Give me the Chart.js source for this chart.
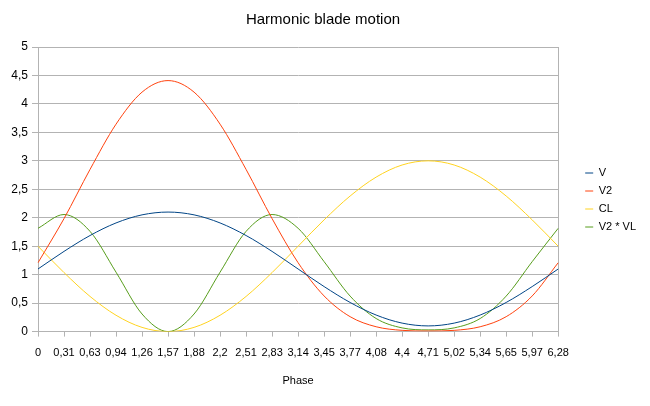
<!DOCTYPE html>
<html>
<head>
<meta charset="utf-8">
<script src="https://cdn.jsdelivr.net/npm/chart.js@4.4.1/dist/chart.umd.min.js"></script>
<style>
  html, body { margin: 0; padding: 0; background: #fff; }
</style>
</head>
<body>
<canvas id="chart" width="650" height="406"></canvas>
<script>
// phase labels as printed on the axis
const phase = ['0', '0,31', '0,63', '0,94', '1,26', '1,57', '1,88', '2,2', '2,51', '2,83', '3,14',
  '3,45', '3,77', '4,08', '4,4', '4,71', '5,02', '5,34', '5,65', '5,97', '6,28'];

const v = [1.1, 1.409, 1.688, 1.909, 2.051, 2.1, 2.051, 1.909, 1.688, 1.409, 1.1,
  0.791, 0.512, 0.291, 0.149, 0.1, 0.149, 0.291, 0.512, 0.791, 1.1];

const v2 = [1.21, 1.985, 2.849, 3.644, 4.207, 4.41, 4.207, 3.644, 2.849, 1.985, 1.21,
  0.626, 0.262, 0.085, 0.022, 0.01, 0.022, 0.085, 0.262, 0.626, 1.21];

const cl = [1.5, 1.037, 0.618, 0.287, 0.074, 0, 0.074, 0.287, 0.618, 1.037, 1.5,
  1.963, 2.382, 2.714, 2.927, 3, 2.927, 2.714, 2.382, 1.963, 1.5];

const v2vl = [1.815, 2.057, 1.761, 1.044, 0.309, 0, 0.309, 1.044, 1.761, 2.057, 1.815,
  1.229, 0.624, 0.23, 0.065, 0.03, 0.065, 0.23, 0.624, 1.229, 1.815];

const yTicks = ['0', '0,5', '1', '1,5', '2', '2,5', '3', '3,5', '4', '4,5', '5'];

const font = "'Liberation Sans', Arial, sans-serif";
const gridColor = '#b3b3b3';

function line(label, data, color) {
  return {
    label: label,
    data: data,
    borderColor: color,
    backgroundColor: color,
    borderWidth: 1,
    pointRadius: 0,
    cubicInterpolationMode: 'monotone',
    fill: false
  };
}

new Chart(document.getElementById('chart'), {
  type: 'line',
  data: {
    labels: phase,
    datasets: [
      line('V', v, '#004586'),
      line('V2', v2, '#ff420e'),
      line('CL', cl, '#ffd320'),
      line('V2 * VL', v2vl, '#579d1c')
    ]
  },
  options: {
    responsive: false,
    devicePixelRatio: 1,
    animation: false,
    layout: { padding: { left: 0, right: 4, top: 0, bottom: 18 } },
    plugins: {
      title: {
        display: true,
        text: 'Harmonic blade motion',
        color: '#000',
        font: { family: font, size: 15, weight: 'normal' },
        padding: { top: 11, bottom: 18 }
      },
      legend: {
        position: 'right',
        // empty title just pushes the items down a little
        title: { display: true, text: '', font: { family: font, size: 10 }, padding: 0 },
        labels: {
          usePointStyle: true,
          pointStyle: 'line',
          pointStyleWidth: 8,
          padding: 7,
          color: '#000',
          font: { family: font, size: 11 }
        }
      },
      tooltip: { enabled: false }
    },
    scales: {
      x: {
        offset: false,
        grid: { drawOnChartArea: false, drawTicks: true, tickLength: 5, color: gridColor },
        border: { color: gridColor },
        ticks: { color: '#000', padding: 10, maxRotation: 0, autoSkip: false, font: { family: font, size: 11 } },
        title: { display: true, text: 'Phase', color: '#000', font: { family: font, size: 11 }, padding: { top: 5, bottom: 0 } }
      },
      y: {
        min: 0,
        max: 5,
        ticks: {
          stepSize: 0.5,
          color: '#000',
          padding: 4,
          font: { family: font, size: 12 },
          callback: (val, i) => yTicks[i]
        },
        grid: { color: gridColor, tickLength: 6 },
        border: { color: gridColor },
        afterFit: (scale) => { scale.width = 38; }
      },
      yRight: {
        position: 'right',
        min: 0,
        max: 5,
        ticks: { display: false },
        grid: { display: false },
        border: { color: gridColor },
        afterFit: (scale) => { scale.width = 20; }
      }
    }
  }
});
</script>
</body>
</html>
